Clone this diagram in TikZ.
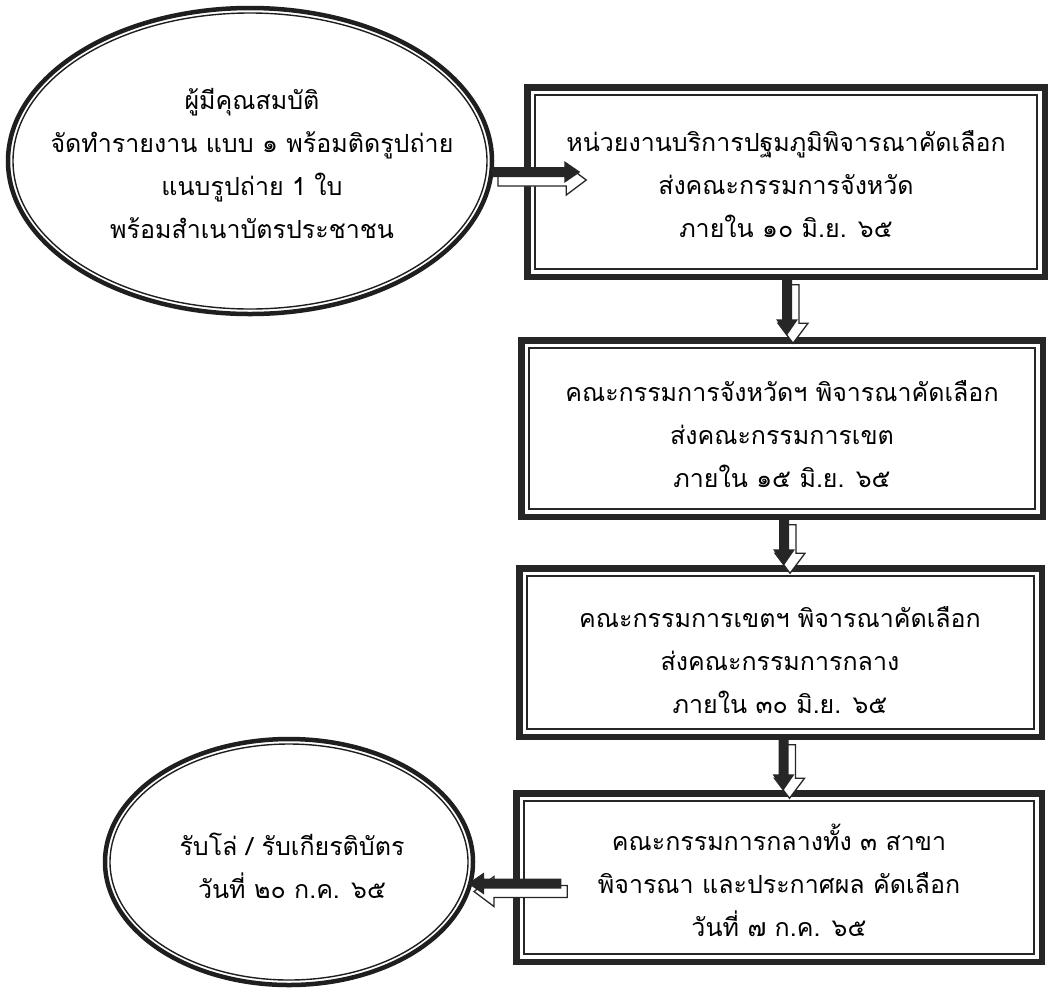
\documentclass[tikz,border=0pt]{standalone}
\usepackage{fontspec}
\newfontfamily\thaifont[Script=Thai]{Loma}
\usetikzlibrary{shapes.geometric,calc}

\tikzset{
  txt/.style={align=center, font=\thaifont\fontsize{25}{43}\selectfont, inner sep=0pt},
  oval/.style={ellipse, draw=black!88, line width=4.5pt, inner sep=0pt, outer sep=0pt},
  ovalin/.style={ellipse, draw=black!88, line width=1.4pt, inner sep=0pt, outer sep=0pt},
  framebox/.style={rectangle, draw=black!85, line width=6.5pt, inner sep=0pt, outer sep=0pt},
  innerline/.style={draw=black!85, line width=2.2pt},
  arrowback/.style={fill=white, draw=black!85, line width=1.3pt, line join=miter},
  arrowfront/.style={fill=black!85},
}

% block arrow with a shadowed outline copy, from named coordinate #1 to named coordinate #2
\newcommand\shadowarrow[2]{%
  \coordinate (saD) at ($(#2)!16pt!(#1)$);
  \coordinate (saW) at ($(#2)!20pt!(#1)$);
  \begin{scope}[transform canvas={shift={(6pt,-8pt)}}]
    \path[arrowback] ($(#1)!6pt!90:(#2)$) -- ($(saW)!6pt!90:(#2)$) -- ($(saW)!15pt!90:(#2)$)
      -- (#2) -- ($(saW)!15pt!-90:(#2)$) -- ($(saW)!6pt!-90:(#2)$) -- ($(#1)!6pt!-90:(#2)$) -- cycle;
  \end{scope}
  \path[arrowfront] ($(#1)!5pt!90:(#2)$) -- ($(saD)!5pt!90:(#2)$) -- ($(saD)!11pt!90:(#2)$)
      -- (#2) -- ($(saD)!11pt!-90:(#2)$) -- ($(saD)!5pt!-90:(#2)$) -- ($(#1)!5pt!-90:(#2)$) -- cycle;
}

\begin{document}
\begin{tikzpicture}[x=1pt,y=-1pt]
\useasboundingbox[fill=white] (0,0) rectangle (1054,997);

% top ellipse
\node[oval, minimum width=484pt, minimum height=306pt] (e1) at (250,161) {};
\node[ovalin, minimum width=474pt, minimum height=296pt] (e1i) at (e1.center) {};
\node[txt] (e1t) at (252,163) {ผู้มีคุณสมบัติ\\จัดทำรายงาน แบบ ๑ พร้อมติดรูปถ่าย\\แนบรูปถ่าย 1 ใบ\\พร้อมสำเนาบัตรประชาชน};

% boxes
\node[framebox, minimum width=517.5pt, minimum height=189.5pt] (b1) at (786,182) {};
\node[txt] (b1t) at (786,184) {หน่วยงานบริการปฐมภูมิพิจารณาคัดเลือก\\ส่งคณะกรรมการจังหวัด\\ภายใน ๑๐ มิ.ย. ๖๕};

\node[framebox, minimum width=521.5pt, minimum height=176.5pt] (b2) at (782,428.5) {};
\node[txt] (b2t) at (782,434) {คณะกรรมการจังหวัดฯ พิจารณาคัดเลือก\\ส่งคณะกรรมการเขต\\ภายใน ๑๕ มิ.ย. ๖๕};

\node[framebox, minimum width=522.5pt, minimum height=168.5pt] (b3) at (780.5,652.5) {};
\node[txt] (b3t) at (780,660) {คณะกรรมการเขตฯ พิจารณาคัดเลือก\\ส่งคณะกรรมการกลาง\\ภายใน ๓๐ มิ.ย. ๖๕};

\node[framebox, minimum width=525.5pt, minimum height=168.5pt] (b4) at (779,877.5) {};
\node[txt] (b4t) at (779,880) {คณะกรรมการกลางทั้ง ๓ สาขา\\พิจารณา และประกาศผล คัดเลือก\\วันที่ ๗ ก.ค. ๖๕};

\foreach \n in {b1,b2,b3,b4}
  \draw[innerline] ([shift={(7.5pt,-7.5pt)}]\n.north west) rectangle ([shift={(-7.5pt,7.5pt)}]\n.south east);

% bottom ellipse
\node[oval, minimum width=368pt, minimum height=246pt] (e2) at (289,862) {};
\node[ovalin, minimum width=358pt, minimum height=236pt] (e2i) at (e2.center) {};
\node[txt] (e2t) at (292,866) {รับโล่ / รับเกียรติบัตร\\วันที่ ๒๐ ก.ค. ๖๕};

% connectors
\coordinate (a1s) at ([yshift=-11pt]e1.east);
\coordinate (a1e) at ([xshift=53pt]b1.west |- a1s);
\shadowarrow{a1s}{a1e}

\coordinate (a2s) at ([xshift=1pt]b1.south);
\coordinate (a2e) at ([yshift=5pt]b2.north -| a2s);
\shadowarrow{a2s}{a2e}

\coordinate (a3s) at ([xshift=2pt]b2.south);
\coordinate (a3e) at ([yshift=3pt]b3.north -| a3s);
\shadowarrow{a3s}{a3e}

\coordinate (a4s) at ([xshift=3pt]b3.south);
\coordinate (a4e) at ([yshift=3pt]b4.north -| a4s);
\shadowarrow{a4s}{a4e}

\coordinate (a5s) at ([xshift=45pt,yshift=-6pt]b4.west);
\coordinate (a5e) at ([xshift=-5pt]e2.east |- a5s);
\shadowarrow{a5s}{a5e}
\end{tikzpicture}
\end{document}
